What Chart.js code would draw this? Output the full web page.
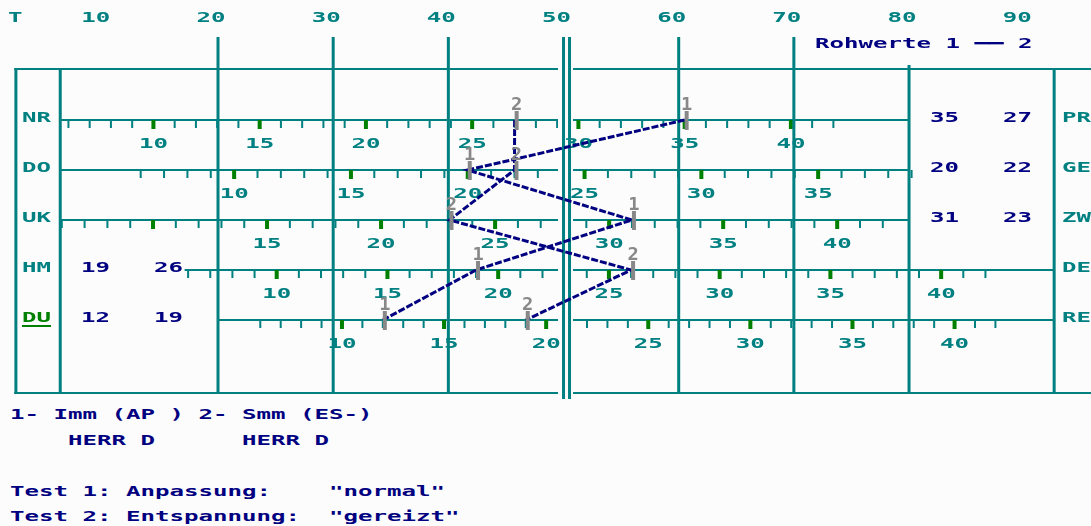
<!DOCTYPE html>
<html lang="de">
<head>
<meta charset="UTF-8">
<title>Profil Rohwerte</title>
<style>
    * { margin: 0; padding: 0; box-sizing: border-box; }
    body { background: #fcfcfc; width: 1091px; height: 526px; overflow: hidden; position: relative; }
    .chart-box { position: absolute; left: 0; top: 0; width: 1091px; height: 400px; }
    .note {
        position: absolute; left: 10px;
        font: bold 14px "DejaVu Sans Mono", monospace;
        color: #000080; white-space: pre; line-height: 16px;
        transform: scaleX(1.72); transform-origin: 0 50%;
    }
</style>
<script src="https://cdn.jsdelivr.net/npm/chart.js@4.4.1/dist/chart.umd.min.js"></script>
</head>
<body>
<div class="chart-box"><canvas id="profil"></canvas></div>
<div class="note" style="top:406px">1- Imm (AP ) 2- Smm (ES-)</div>
<div class="note" style="top:432px">    HERR D      HERR D</div>
<div class="note" style="top:483px">Test 1: Anpassung:    "normal"</div>
<div class="note" style="top:508px">Test 2: Entspannung:  "gereizt"</div>

<script>
// scales (rows) and their opposite poles
const rows = ['NR', 'DO', 'UK', 'HM', 'DU'];
const poles = ['PR', 'GE', 'ZW', 'DE', 'RE'];
// raw scores, test 1 and test 2
const raw1 = [35, 20, 31, 19, 12];
const raw2 = [27, 22, 23, 26, 19];
// norms per row, raw -> T
const normMean = [29.3, 24.1, 28.0, 22.95, 20.85];
const normSD = [5.42, 4.93, 5.05, 5.2, 5.64];
// T scale labels on top
const tTicks = [10, 20, 30, 40, 50, 60, 70, 80, 90];
// first labelled raw value under each ruler
const rawLabelFrom = [10, 10, 15, 10, 10];

const teal = '#008080', navy = '#000080', green = '#008000', gray = '#888888', bg = '#fcfcfc';
const SX = 1.72;

function toT(i, r) {
    return 50 + 10 * (r - normMean[i]) / normSD[i];
}

function txt(ctx, s, x, y, color, align, sx, size) {
    ctx.save();
    ctx.font = 'bold ' + (size || 14) + 'px "DejaVu Sans Mono", monospace';
    ctx.fillStyle = color;
    ctx.textBaseline = 'middle';
    ctx.textAlign = align || 'left';
    ctx.translate(x, y);
    ctx.scale(sx || SX, 1);
    ctx.fillText(s, 0, 0);
    ctx.restore();
}

// ruler extents in T units
const rulerFromT = [6.3, 6.3, 6.3, 17.1, 20];
const rulerToT = [80, 80, 80, 92.6, 92.6];

const profilePlugin = {
    id: 'profile',
    beforeDatasetsDraw(chart) {
        const ctx = chart.ctx;
        const px = t => chart.scales.x.getPixelForValue(t);
        const py = v => chart.scales.y.getPixelForValue(v);
        const yTop = py(-1.02), yBot = py(5.46), yLong = py(-1.66);

        ctx.save();
        ctx.strokeStyle = teal;
        ctx.lineWidth = 2;
        const hline = (a, b, yy) => { ctx.beginPath(); ctx.moveTo(a, yy); ctx.lineTo(b, yy); ctx.stroke(); };
        hline(px(2.3), 1091, yTop);
        hline(px(2.3), 1091, yBot);

        // rulers with raw ticks
        rows.forEach((name, i) => {
            const yy = py(i);
            const x0 = px(rulerFromT[i]), x1 = px(rulerToT[i]);
            ctx.strokeStyle = teal;
            ctx.lineWidth = 2;
            hline(x0, x1, yy);
            for (let r = 6; r <= 42; r++) {
                const xx = px(toT(i, r));
                if (xx < x0 - 1 || xx > x1 + 4) continue;
                if (r % 5 === 0) {
                    ctx.fillStyle = green;
                    ctx.fillRect(xx - 2, yy, 4, 9);
                } else {
                    ctx.fillStyle = teal;
                    ctx.fillRect(xx - 1, yy, 2, 8);
                }
            }
        });

        // gap around the double line
        ctx.fillStyle = bg;
        ctx.fillRect(px(50) - 5.5, yLong, 15, yBot - yLong + 3);

        // ruler labels
        rows.forEach((name, i) => {
            const x0 = px(rulerFromT[i]), x1 = px(rulerToT[i]);
            for (let r = rawLabelFrom[i]; r <= 40; r += 5) {
                const xx = px(toT(i, r));
                if (xx < x0 || xx > x1) continue;
                txt(ctx, String(r), xx, py(i) + 24, teal, 'center');
            }
        });

        // vertical lines
        ctx.strokeStyle = teal;
        ctx.lineWidth = 3;
        const vline = (xx, a, b) => { ctx.beginPath(); ctx.moveTo(xx, a); ctx.lineTo(xx, b); ctx.stroke(); };
        [20, 30, 40, 60, 70].forEach(t => vline(px(t), yLong, yBot));
        vline(px(50), yLong, yBot + 6);
        vline(px(50) + 6, yLong, yBot + 6);
        vline(px(80), py(-1.1), yBot);
        [2.45, 6.3, 92.6].forEach(t => vline(px(t), yTop, yBot));

        // top T labels
        txt(ctx, 'T', 8, 18, teal, 'left');
        tTicks.forEach(t => txt(ctx, String(t), px(t) - 7, 18, teal, 'center'));
        txt(ctx, 'Rohwerte 1 \u2501\u2501 2', 815, 44, navy, 'left');

        // row names, poles, raw numbers
        rows.forEach((name, i) => {
            const yy = py(i) - 2;
            const c = name === 'DU' ? green : teal;
            txt(ctx, name, 22, yy, c, 'left');
            if (name === 'DU') {
                ctx.fillStyle = green;
                ctx.fillRect(22, yy + 7, 29, 2);
            }
            txt(ctx, poles[i], 1062, yy, teal, 'left');
            if (i < 3) {
                txt(ctx, String(raw1[i]), 930, yy, navy, 'left');
                txt(ctx, String(raw2[i]), 1003, yy, navy, 'left');
            } else {
                txt(ctx, String(raw1[i]), 81, yy, navy, 'left');
                txt(ctx, String(raw2[i]), 154, yy, navy, 'left');
            }
        });
        ctx.restore();
    },
    afterDatasetsDraw(chart) {
        const ctx = chart.ctx;
        chart.data.datasets.forEach((ds, d) => {
            const meta = chart.getDatasetMeta(d);
            meta.data.forEach(pt => {
                ctx.fillStyle = gray;
                ctx.fillRect(pt.x, pt.y - 9, 4, 19);
                txt(ctx, String(d + 1), pt.x + 2, pt.y - 14, gray, 'center', 1.1, 17);
            });
        });
    }
};

const lineStyle = {
    borderColor: navy,
    borderWidth: 3,
    borderDash: [7, 2],
    pointRadius: 0,
    tension: 0,
    fill: false
};

new Chart(document.getElementById('profil'), {
    type: 'line',
    data: {
        datasets: [
            Object.assign({ label: 'Test 1', data: raw1.map((r, i) => ({ x: toT(i, r), y: i })) }, lineStyle),
            Object.assign({ label: 'Test 2', data: raw2.map((r, i) => ({ x: toT(i, r), y: i })) }, lineStyle)
        ]
    },
    options: {
        responsive: true,
        maintainAspectRatio: false,
        animation: false,
        layout: { padding: 0, autoPadding: false },
        plugins: { legend: { display: false }, tooltip: { enabled: false } },
        scales: {
            x: { type: 'linear', min: 1.07, max: 95.8, display: false },
            y: { type: 'linear', min: -2.4, max: 5.6, reverse: true, display: false }
        }
    },
    plugins: [profilePlugin]
});
</script>
</body>
</html>
